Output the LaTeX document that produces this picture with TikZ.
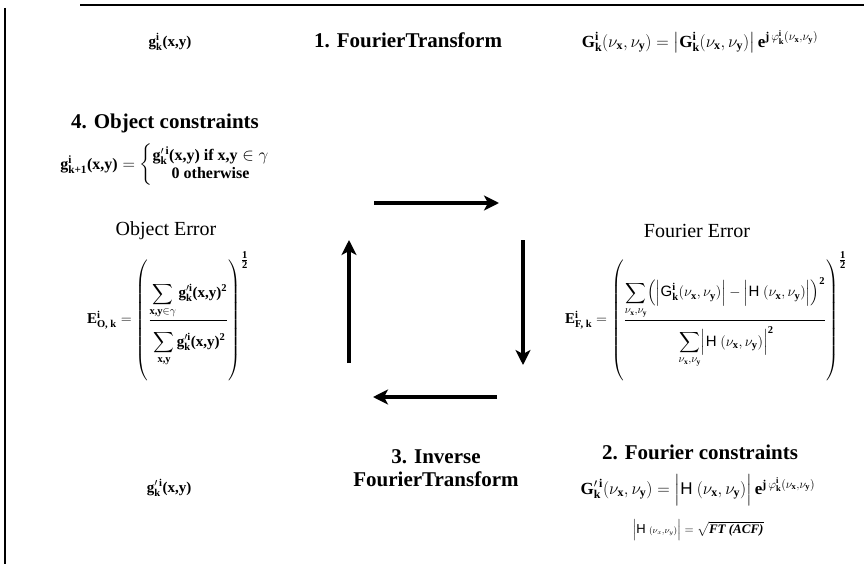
\documentclass[tikz,border=0pt]{standalone}
\usepackage{amsmath}
\usepackage{fontspec}
\setmainfont{Liberation Serif}
\setsansfont{Liberation Sans}
\usepackage{tikz}
\usetikzlibrary{arrows.meta, positioning, calc}

\newcommand{\bt}[1]{\text{\bfseries #1}}
\newcommand{\Hs}{\text{\sffamily H}}
\newcommand{\nux}{\nu_{\bt{x}}}
\newcommand{\nuy}{\nu_{\bt{y}}}
\newcommand{\numstrut}{\rule[-9pt]{0pt}{9pt}}
\newcommand{\denstrut}{\rule{0pt}{24pt}}

\begin{document}
\begin{tikzpicture}[
    x=1pt, y=-1pt,
    head/.style={font=\fontsize{21}{23}\selectfont\bfseries, inner sep=1pt},
    errlbl/.style={font=\fontsize{20}{23}\selectfont, inner sep=1pt},
    eqn/.style={font=\fontsize{15}{17}\selectfont, inner sep=1pt},
    eqnbig/.style={font=\fontsize{17}{19}\selectfont, inner sep=1pt},
    cycarrow/.style={-{Stealth[length=15pt, width=15pt, inset=4pt]}, line width=3.6pt}
]
    \useasboundingbox (0,0) rectangle (864,564);
    % Frame
    \draw[line width=1.5pt] (80,5) -- (864,5);
    \draw[line width=1.5pt] (5,8) -- (5,564);

    % Top row
    \node[eqn] (gk) at (170,42) {$\bt{g}^{\bt{i}}_{\bt{k}}\bt{(x,y)}$};
    \node[head] (ft) at (408,40) {1. FourierTransform};
    \node[eqnbig] (Gk) at (700,42) {$\bt{G}^{\bt{i}}_{\bt{k}}(\nux,\nuy) = \left|\bt{G}^{\bt{i}}_{\bt{k}}(\nux,\nuy)\right| \bt{e}^{\bt{j}\,\varphi^{\bt{i}}_{\bt{k}}(\nux,\nuy)}$};

    % Object side
    \node[head] (oc) at (165,123) {4. Object constraints};
    \node[eqn, font=\fontsize{16}{18}\selectfont] (gk1) at (165,165) {$\bt{g}^{\bt{i}}_{\bt{k+1}}\bt{(x,y)} = \left\{\begin{array}{@{}c@{}}\bt{g}^{\prime\,\bt{i}}_{\bt{k}}\bt{(x,y) if x,y}\in\gamma\\ \bt{0 otherwise}\end{array}\right.$};
    \node[errlbl] (oe) at (166,231) {Object Error};
    \node[eqn] (eo) at (168,316) {$\bt{E}^{\bt{i}}_{\bt{O, k}} = \left(\rule[-56pt]{0pt}{118pt}\dfrac{\displaystyle\sum_{\bt{x,y}\in\gamma}\bt{g}^{\prime\bt{i}}_{\bt{k}}\bt{(x,y)}^{\bt{2}}\numstrut}{\denstrut\displaystyle\sum_{\bt{x,y}}\bt{g}^{\prime\bt{i}}_{\bt{k}}\bt{(x,y)}^{\bt{2}}}\right)^{\tfrac{\bt{1}}{\bt{2}}}$};

    % Fourier side
    \node[errlbl] (fe) at (697,231) {Fourier Error};
    \node[eqn] (ef) at (706,316) {$\bt{E}^{\bt{i}}_{\bt{F, k}} = \left(\rule[-56pt]{0pt}{118pt}\dfrac{\displaystyle\sum_{\nux,\nuy}\Bigl(\Bigl|\text{\sffamily G}^{\bt{i}}_{\bt{k}}(\nux,\nuy)\Bigr| - \Bigl|\Hs\ (\nux,\nuy)\Bigr|\Bigr)^{\bt{2}}\numstrut}{\denstrut\displaystyle\sum_{\nux,\nuy}\Bigl|\Hs\ (\nux,\nuy)\Bigr|^{\bt{2}}}\right)^{\tfrac{\bt{1}}{\bt{2}}}$};

    % Bottom row
    \node[eqn] (gp) at (169,488) {$\bt{g}^{\prime\,\bt{i}}_{\bt{k}}\bt{(x,y)}$};
    \node[head, align=center] (ift) at (436,468) {3. Inverse\\FourierTransform};
    \node[head] (fc) at (700,452) {2. Fourier constraints};
    \node[eqnbig] (Gp) at (698,490) {$\bt{G}^{\prime\,\bt{i}}_{\bt{k}}(\nux,\nuy) = \Bigl|\Hs\ (\nux,\nuy)\Bigr|\,\bt{e}^{\bt{j}\,\varphi^{\bt{i}}_{\bt{k}}(\nux,\nuy)}$};
    \node[eqn, font=\fontsize{13}{15}\selectfont] (Hm) at (698,530) {$\Bigl|\Hs\ {\scriptstyle(\nu_x,\nu_y)}\Bigr| = \sqrt{\text{\bfseries\itshape FT (ACF)}}$};

    % Cycle arrows
    \coordinate (a1) at (374,203);
    \coordinate (a2) at (499,203);
    \coordinate (b1) at (523,240);
    \coordinate (b2) at (523,365);
    \coordinate (c1) at (497,397);
    \coordinate (c2) at (373,397);
    \coordinate (d1) at (349,363);
    \coordinate (d2) at (349,240);
    \draw[cycarrow] (a1) -- (a2);
    \draw[cycarrow] (b1) -- (b2);
    \draw[cycarrow] (c1) -- (c2);
    \draw[cycarrow] (d1) -- (d2);
\end{tikzpicture}
\end{document}
